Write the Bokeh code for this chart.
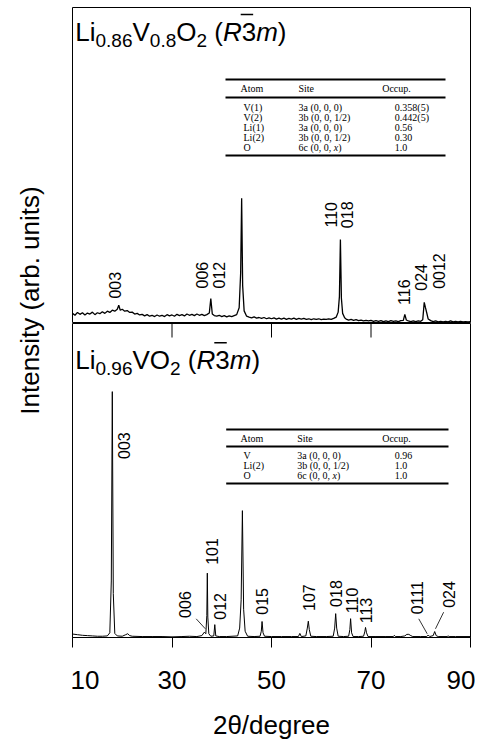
import math
from bokeh.plotting import figure
from bokeh.models import Range1d, LinearAxis, FixedTicker, Label, ColumnDataSource
from bokeh.layouts import row, column
from bokeh.core.properties import value
from bokeh.embed import file_html
from bokeh.resources import INLINE

# ---------------- data ----------------
# Upper pattern: Li0.86V0.8O2 (intensity in arbitrary units, 0-100 panel scale)
top_two_theta = [
    10.0, 10.5, 11.0, 11.5, 12.0, 12.5, 13.0, 13.5, 14.0, 14.5,
    15.0, 15.5, 16.0, 16.5, 17.0, 17.5, 18.0, 18.5, 19.0, 19.3,
    19.6, 20.0, 20.5, 21.0, 21.5, 22.0, 22.5, 23.0, 23.5, 24.0,
    24.5, 25.0, 25.5, 26.0, 26.5, 27.0, 27.5, 28.0, 28.5, 29.0,
    29.5, 30.0, 30.5, 31.0, 31.5, 32.0, 32.5, 33.0, 33.5, 34.0,
    34.5, 35.0, 35.5, 36.0, 36.5, 37.0, 37.5, 37.8, 38.1, 38.5,
    39.0, 39.5, 40.0, 40.5, 41.0, 41.5, 42.0, 42.5, 43.0, 43.5,
    43.8, 44.0, 44.2, 44.5, 45.0, 45.5, 46.0, 46.5, 47.0, 47.5,
    48.0, 48.5, 49.0, 49.5, 50.0, 50.5, 51.0, 51.5, 52.0, 52.5,
    53.0, 53.5, 54.0, 54.5, 55.0, 55.5, 56.0, 56.5, 57.0, 57.5,
    58.0, 58.5, 59.0, 59.5, 60.0, 60.5, 61.0, 61.5, 62.0, 62.5,
    63.0, 63.4, 63.65, 63.85, 64.05, 64.3, 64.7, 65.0, 65.5, 66.0,
    66.5, 67.0, 67.5, 68.0, 68.5, 69.0, 69.5, 70.0, 70.5, 71.0,
    71.5, 72.0, 72.5, 73.0, 73.5, 74.0, 74.5, 75.0, 75.5, 76.0,
    76.5, 76.8, 77.1, 77.5, 78.0, 78.5, 79.0, 79.5, 80.0, 80.4,
    80.7, 80.95, 81.2, 81.5, 82.0, 82.5, 83.0, 83.5, 84.0, 84.5,
    85.0, 85.5, 86.0, 86.5, 87.0, 87.5, 88.0, 88.5, 89.0, 89.5,
    90.0,
]
top_intensity = [
    3.2, 2.6, 3.5, 2.9, 3.4, 2.7, 3.3, 3.0, 3.6, 2.8,
    3.4, 3.1, 3.7, 3.2, 3.9, 3.5, 4.2, 3.9, 4.5, 5.8,
    4.2, 4.5, 3.9, 4.1, 3.5, 3.6, 3.0, 3.2, 2.7, 2.9,
    2.4, 2.8, 2.3, 2.6, 2.2, 2.7, 2.3, 2.6, 2.2, 2.8,
    2.4, 2.7, 2.3, 2.9, 2.5, 2.8, 2.4, 3.0, 2.6, 2.9,
    2.5, 3.0, 2.6, 2.9, 2.5, 2.8, 3.3, 7.9, 3.0, 2.5,
    2.3, 2.6, 2.2, 2.5, 2.1, 2.4, 2.2, 2.5, 2.8, 5.0,
    16.0, 39.6, 12.0, 4.0, 2.3, 2.0, 1.8, 2.1, 1.7, 1.9,
    1.6, 1.9, 1.5, 1.8, 1.5, 1.8, 1.4, 1.7, 1.4, 1.7,
    1.3, 1.6, 1.4, 1.7, 1.3, 1.6, 1.4, 1.6, 1.3, 1.5,
    1.2, 1.5, 1.3, 1.5, 1.2, 1.4, 1.3, 1.5, 1.3, 1.6,
    2.0, 3.6, 8.5, 26.6, 8.0, 3.2, 1.8, 1.4, 1.1, 1.3,
    1.0, 1.2, 0.9, 1.1, 0.8, 1.0, 0.8, 1.0, 0.7, 0.9,
    0.7, 0.9, 0.6, 0.8, 0.6, 0.9, 0.7, 0.8, 0.6, 0.9,
    1.0, 2.9, 1.1, 0.8, 0.6, 0.8, 0.6, 0.8, 0.7, 1.2,
    6.7, 5.0, 3.4, 1.4, 0.9, 0.6, 0.8, 0.5, 0.7, 0.5,
    0.7, 0.5, 0.8, 0.5, 0.7, 0.5, 0.7, 0.5, 0.6, 0.5,
    0.6,
]

# Lower pattern: Li0.96VO2
bottom_two_theta = [
    10.0, 11.0, 12.0, 13.0, 14.0, 15.0, 16.0, 17.0, 17.5, 17.8,
    18.0, 18.2, 18.5, 19.0, 20.0, 20.7, 21.1, 21.5, 22.0, 24.0,
    26.0, 28.0, 30.0, 32.0, 33.5, 35.0, 36.0, 36.5, 36.8, 37.0,
    37.1, 37.2, 37.4, 37.8, 38.4, 38.6, 38.8, 39.5, 41.0, 43.2,
    43.6, 43.9, 44.15, 44.4, 44.7, 45.2, 46.5, 47.7, 47.95, 48.1,
    48.3, 48.6, 50.0, 52.0, 54.0, 55.4, 55.7, 56.0, 56.9, 57.2,
    57.4, 57.6, 57.9, 59.0, 61.0, 62.4, 62.7, 62.9, 63.1, 63.4,
    64.5, 65.5, 65.75, 65.9, 66.1, 66.4, 67.5, 68.5, 68.75, 68.9,
    69.1, 69.4, 71.0, 73.0, 74.5, 74.7, 74.9, 76.0, 76.8, 77.2,
    77.6, 78.0, 78.4, 80.0, 81.2, 81.5, 81.8, 82.5, 82.8, 83.1,
    83.5, 85.3, 85.5, 85.7, 87.0, 90.0,
]
bottom_intensity = [
    1.1, 0.9, 0.7, 0.6, 0.5, 0.4, 0.4, 0.5, 1.5, 18.0,
    78.3, 14.0, 1.3, 0.5, 0.4, 0.9, 1.2, 0.6, 0.4, 0.3,
    0.3, 0.3, 0.2, 0.3, 0.4, 0.3, 0.6, 1.7, 1.2, 7.0,
    20.5, 6.5, 1.2, 0.4, 0.5, 4.1, 0.5, 0.3, 0.3, 0.5,
    3.0, 12.0, 40.4, 9.0, 2.0, 0.4, 0.3, 0.4, 2.0, 5.1,
    1.5, 0.4, 0.3, 0.3, 0.3, 0.3, 1.3, 0.3, 0.5, 3.0,
    5.2, 2.5, 0.4, 0.3, 0.3, 0.4, 3.0, 7.6, 3.0, 0.4,
    0.3, 0.4, 2.5, 6.0, 1.5, 0.3, 0.3, 0.4, 1.8, 3.2,
    1.5, 0.3, 0.3, 0.3, 0.3, 0.7, 0.3, 0.3, 0.5, 1.0,
    1.0, 0.6, 0.3, 0.3, 0.3, 0.8, 0.3, 0.6, 1.9, 0.6,
    0.3, 0.3, 0.5, 0.3, 0.3, 0.3,
]

# Miller-index labels (placed in data coordinates: 2theta, intensity)
top_hkl = ["003", "006", "012", "110", "018", "116", "024", "0012"]
top_hkl_x = [18.64, 36.07, 39.4, 61.86, 65.2, 76.6, 80.15, 83.6]
top_hkl_y = [12.1, 15.3, 15.3, 34.4, 34.4, 9.9, 14.6, 16.6]

bottom_hkl = ["003", "006", "101", "012", "015", "107", "018", "110", "113", "0111", "024"]
bottom_hkl_x = [20.45, 32.7, 38.1, 39.55, 48.1, 57.6, 62.9, 66.2, 68.9, 79.3, 85.6]
bottom_hkl_y = [61.1, 10.5, 27.4, 9.9, 11.5, 12.7, 14.0, 11.8, 8.6, 12.7, 13.7]

# leader lines from labels to their peaks (2theta, intensity)
leader_x0 = [34.86, 79.6, 84.6]
leader_y0 = [5.95, 5.95, 8.06]
leader_x1 = [36.7, 81.3, 82.96]
leader_y1 = [2.77, 1.18, 2.77]

# site-occupancy tables
top_atoms = ["V(1)", "V(2)", "Li(1)", "Li(2)", "O"]
top_sites = ["3a (0, 0, 0)", "3b (0, 0, 1/2)", "3a (0, 0, 0)", "3b (0, 0, 1/2)", "6c (0, 0, x)"]
top_occ = ["0.358(5)", "0.442(5)", "0.56", "0.30", "1.0"]

bottom_atoms = ["V", "Li(2)", "O"]
bottom_sites = ["3a (0, 0, 0)", "3b (0, 0, 1/2)", "6c (0, 0, x)"]
bottom_occ = ["0.96", "1.0", "1.0"]

x_ticks = [10, 30, 50, 70, 90]
mid_ticks = [30, 50, 70]

# ---------------- styling / layout ----------------
SANS = "Liberation Sans"
SERIF = "Liberation Serif"
FRAME_W = 398
TOP_FRAME_H = 316
BOT_FRAME_H = 314
TOTAL_H = 742

SANS_ADV = {"L": .556, "i": .222, "V": .667, "O": .778, " ": .278, "(": .333, ")": .333,
            "R": .722, "m": .833, ".": .278}
for d in "0123456789":
    SANS_ADV[d] = .556
SERIF_ADV = {" ": .25, "(": .333, ")": .333, ",": .25, "/": .278, "a": .444, "b": .5,
             "c": .444, "x": .444}
for d in "0123456789":
    SERIF_ADV[d] = .5


def text_width(s, size, adv):
    return sum(adv.get(c, 0.5) for c in s) * size


def make_panel(frame_h, border_top):
    p = figure(title=None, frame_width=FRAME_W, frame_height=frame_h,
               x_range=Range1d(10, 90), y_range=Range1d(0, 100),
               x_axis_location=None, y_axis_location=None,
               toolbar_location=None, output_backend="svg",
               min_border_left=2, min_border_right=5, min_border_top=border_top,
               min_border_bottom=0)
    p.extra_x_ranges = {"px": Range1d(0, FRAME_W)}
    p.extra_y_ranges = {"px": Range1d(frame_h, 0)}
    p.xgrid.visible = False
    p.ygrid.visible = False
    p.outline_line_color = "black"
    p.outline_line_alpha = 1.0
    p.outline_line_width = 1
    p.background_fill_color = "white"
    p.border_fill_color = "white"
    return p


def add_label(p, x, y, text, size, font=SANS, style="normal", align="left",
              baseline="middle"):
    p.add_layout(Label(x=x, y=y, x_range_name="px", y_range_name="px", text=text,
                       text_font=font, text_font_size=f"{size}px", text_font_style=style,
                       text_align=align, text_baseline=baseline, text_color="black"))


def hline(p, x0, x1, y, width):
    p.segment(x0=[x0], y0=[y], x1=[x1], y1=[y], line_color="black", line_width=width,
              x_range_name="px", y_range_name="px")


def draw_formula(p, parts, x0, base):
    """parts: (text, font size, italic, subscript?) ; base = baseline of main text"""
    x = x0
    for text, size, italic, sub in parts:
        b = base + (6.5 if sub else 0)
        if text.strip():
            add_label(p, x, b - 0.34 * size, text, size,
                      style="italic" if italic else "normal")
        if text == "3":
            hline(p, x - 1.0, x + size * 0.556 - 3.0, base - 26, 1.5)
        x += text_width(text, size, SANS_ADV)


def draw_table(p, atoms, sites, occ, geom):
    fs = 10
    for ly in geom["lines"]:
        hline(p, geom["x0"], geom["x1"], ly, 2)
    hy = geom["header_y"]
    add_label(p, geom["atom_h"], hy, "Atom", fs, font=SERIF)
    add_label(p, geom["site"], hy, "Site", fs, font=SERIF)
    add_label(p, geom["occ_h"], hy, "Occup.", fs, font=SERIF)
    for a, s, o, ry in zip(atoms, sites, occ, geom["rows_y"]):
        add_label(p, geom["atom"], ry, a, fs, font=SERIF)
        if s.endswith("x)"):
            head = s[:-2]
            add_label(p, geom["site"], ry, head, fs, font=SERIF)
            w = text_width(head, fs, SERIF_ADV)
            add_label(p, geom["site"] + w, ry, "x", fs, font=SERIF, style="italic")
            add_label(p, geom["site"] + w + fs * 0.444, ry, ")", fs, font=SERIF)
        else:
            add_label(p, geom["site"], ry, s, fs, font=SERIF)
        add_label(p, geom["occ"], ry, o, fs, font=SERIF)


def draw_hkl(p, xs, ys, labels):
    src = ColumnDataSource(dict(x=xs, y=ys, text=labels))
    p.text(x="x", y="y", text="text", source=src, angle=math.pi / 2,
           text_align="center", text_baseline="middle", text_font=value(SANS),
           text_font_size="16px", text_color="black")


# ---------------- upper panel ----------------
top = make_panel(TOP_FRAME_H, 7)
top.line(top_two_theta, top_intensity, line_color="black", line_width=1.3)
draw_hkl(top, top_hkl_x, top_hkl_y, top_hkl)
draw_formula(top, [("Li", 26, False, False), ("0.86", 19, False, True),
                   ("V", 26, False, False), ("0.8", 19, False, True),
                   ("O", 26, False, False), ("2", 19, False, True),
                   (" ", 26, False, False), ("(", 26, False, False),
                   ("R", 26, True, False), ("3", 26, False, False),
                   ("m", 26, True, False), (")", 26, False, False)],
             2.8, 33)
draw_table(top, top_atoms, top_sites, top_occ,
           dict(x0=153, x1=373, lines=[72, 90, 148], header_y=81,
                rows_y=[99.5, 109.5, 119.5, 129.5, 139.5],
                atom_h=168, atom=171, site=226, occ_h=309.7, occ=322.3))

# ---------------- lower panel ----------------
bottom = make_panel(BOT_FRAME_H, 0)
bottom.line(bottom_two_theta, bottom_intensity, line_color="black", line_width=1)
bottom.segment(x0=leader_x0, y0=leader_y0, x1=leader_x1, y1=leader_y1,
               line_color="black", line_width=0.8)
# tick marks on the boundary between the two panels, pointing down
bottom.segment(x0=mid_ticks, y0=[0] * len(mid_ticks), x1=mid_ticks, y1=[14] * len(mid_ticks),
               line_color="black", line_width=1, y_range_name="px")
draw_hkl(bottom, bottom_hkl_x, bottom_hkl_y, bottom_hkl)
draw_formula(bottom, [("Li", 26, False, False), ("0.96", 19, False, True),
                      ("VO", 26, False, False), ("2", 19, False, True),
                      (" ", 26, False, False), ("(", 26, False, False),
                      ("R", 26, True, False), ("3", 26, False, False),
                      ("m", 26, True, False), (")", 26, False, False)],
             2.8, 45.3)
draw_table(bottom, bottom_atoms, bottom_sites, bottom_occ,
           dict(x0=153.7, x1=376, lines=[106, 123, 160], header_y=114.5,
                rows_y=[132, 142, 152],
                atom_h=168, atom=171, site=224.7, occ_h=309.7, occ=322.3))

xaxis = LinearAxis(ticker=FixedTicker(ticks=x_ticks, minor_ticks=[]),
                   axis_label="2θ/degree",
                   major_tick_in=0, major_tick_out=10, minor_tick_in=0, minor_tick_out=0,
                   major_label_standoff=23, axis_label_standoff=18,
                   major_label_text_font=SANS, major_label_text_font_size="26px",
                   major_label_text_color="black",
                   axis_label_text_font=SANS, axis_label_text_font_size="26px",
                   axis_label_text_font_style="normal", axis_label_text_color="black",
                   axis_line_color="black", major_tick_line_color="black")
bottom.add_layout(xaxis, "below")

# ---------------- y-axis title ----------------
ylab = figure(title=None, width=70, height=TOTAL_H, x_range=Range1d(0, 70),
              y_range=Range1d(TOTAL_H, 0),
              x_axis_location=None, y_axis_location=None, toolbar_location=None,
              output_backend="svg", min_border=0)
ylab.xgrid.visible = False
ylab.ygrid.visible = False
ylab.outline_line_color = None
ylab.add_layout(Label(x=29, y=300, text="Intensity (arb. units)", angle=math.pi / 2,
                      text_align="center", text_baseline="middle", text_font=SANS,
                      text_font_size="26px", text_color="black"))

layout = row(ylab, column(top, bottom))
open("out.html", "w").write(file_html(layout, INLINE))
